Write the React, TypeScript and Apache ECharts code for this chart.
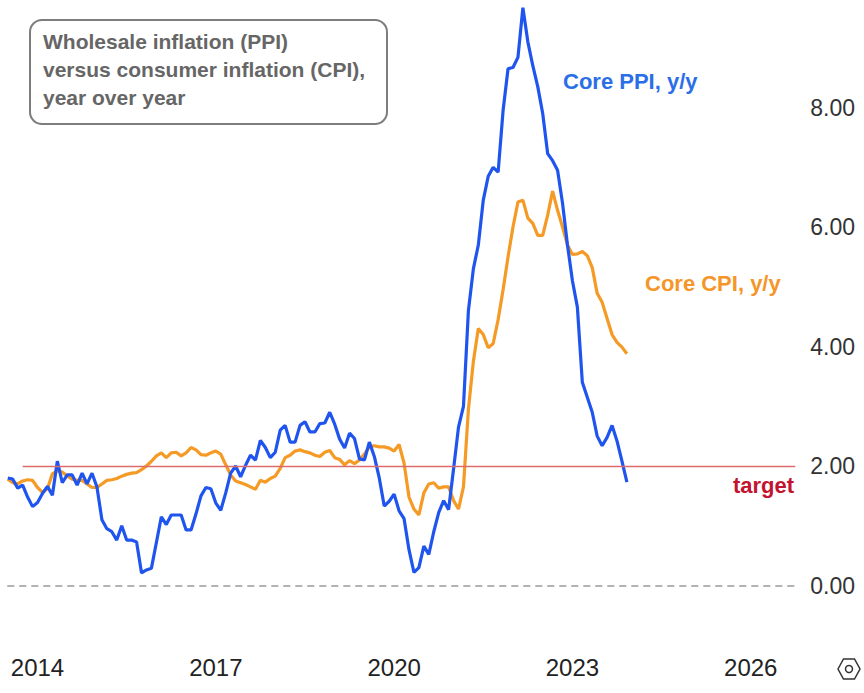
import React, { useEffect, useRef } from "react";
import * as echarts from "echarts";

// Monthly categories, Jul 2013 .. Oct 2026 (axis runs past the data to 2026)
const startYear = 2013;
const startMonth = 7;
const monthCount = 160;
const months: string[] = [];
for (let k = 0; k < monthCount; k++) {
  const m0 = startMonth - 1 + k;
  const y = startYear + Math.floor(m0 / 12);
  const m = (m0 % 12) + 1;
  months.push(`${y}-${m < 10 ? "0" + m : m}`);
}

const yearTickLabels = ["2014", "2017", "2020", "2023", "2026"];
const yTicks = [0, 2, 4, 6, 8];

// Core PPI, y/y  (Jul 2013 .. Dec 2023)
const corePPI = [
  1.8, 1.78, 1.63, 1.68, 1.48, 1.32, 1.39, 1.54, 1.66, 1.51, 2.08, 1.72,
  1.85, 1.85, 1.68, 1.88, 1.7, 1.88, 1.65, 1.1, 0.95, 0.9, 0.76, 1.0,
  0.76, 0.76, 0.73, 0.21, 0.26, 0.29, 0.72, 1.15, 1.02, 1.18, 1.18, 1.18,
  0.93, 0.93, 1.2, 1.5, 1.64, 1.62, 1.38, 1.26, 1.55, 1.88, 2.0, 1.82,
  2.01, 2.18, 2.1, 2.43, 2.31, 2.14, 2.23, 2.6, 2.68, 2.4, 2.4, 2.68,
  2.74, 2.57, 2.57, 2.71, 2.72, 2.9, 2.7, 2.45, 2.3, 2.55, 2.46, 2.12,
  2.1, 2.4, 2.16, 1.8, 1.33, 1.41, 1.53, 1.25, 1.12, 0.6, 0.22, 0.3,
  0.66, 0.52, 0.9, 1.22, 1.42, 1.27, 1.95, 2.65, 3.0, 4.6, 5.3, 5.7,
  6.45, 6.85, 7.0, 6.92, 7.95, 8.65, 8.67, 8.84, 9.67, 9.1, 8.7, 8.35,
  7.9, 7.23, 7.11, 6.95, 6.4, 5.7, 5.1, 4.66, 3.4, 3.15, 2.9, 2.5,
  2.34, 2.48, 2.68, 2.42, 2.08, 1.73,
];

// Core CPI, y/y  (Jul 2013 .. Dec 2023)
const coreCPI = [
  1.78, 1.72, 1.7, 1.75, 1.77, 1.76, 1.64, 1.56, 1.62, 1.87, 1.92, 1.9,
  1.83, 1.78, 1.76, 1.76, 1.7, 1.64, 1.64, 1.7, 1.76, 1.77, 1.79, 1.83,
  1.86, 1.88, 1.89, 1.94, 2.0, 2.08, 2.17, 2.22, 2.14, 2.22, 2.23, 2.17,
  2.22, 2.31, 2.27, 2.19, 2.18, 2.22, 2.25, 2.2, 2.02, 1.85, 1.75, 1.72,
  1.69, 1.65, 1.61, 1.76, 1.73, 1.79, 1.83, 1.96, 2.14, 2.18, 2.25, 2.27,
  2.24, 2.22, 2.18, 2.16, 2.23, 2.26, 2.14, 2.11, 2.02, 2.09, 2.04, 2.1,
  2.2, 2.32, 2.34, 2.32, 2.32, 2.3, 2.25, 2.36, 2.05, 1.48, 1.28, 1.18,
  1.55, 1.7, 1.72, 1.63, 1.65, 1.65, 1.42, 1.28, 1.65, 2.95, 3.75, 4.3,
  4.2, 3.98, 4.05, 4.45, 4.95, 5.5, 6.0, 6.42, 6.45, 6.15, 6.06, 5.86,
  5.86, 6.2, 6.6, 6.28, 6.0, 5.7, 5.54, 5.55, 5.59, 5.52, 5.32, 4.89,
  4.74, 4.47, 4.2, 4.07, 3.99, 3.88,
];

const targetValue = 2;

export default function App() {
  const ref = useRef<HTMLDivElement>(null);

  useEffect(() => {
    if (!ref.current) return;
    const chart = echarts.init(ref.current, null, { renderer: "svg" });
    const font = '"Liberation Sans", Arial, sans-serif';
    const showYears = new Set(yearTickLabels.map((y) => `${y}-01`));

    chart.setOption({
      animation: false,
      backgroundColor: "#ffffff",
      grid: { left: 7.8, right: 68.7, top: 0, bottom: 107.5, containLabel: false },
      xAxis: {
        type: "category",
        data: months,
        boundaryGap: false,
        axisLine: {
          show: true,
          onZero: true,
          lineStyle: { color: "#9a9a9a", width: 1.5, type: [6, 6] },
        },
        axisTick: { show: false },
        splitLine: { show: false },
        axisLabel: {
          interval: (_i: number, v: string) => showYears.has(v),
          formatter: (v: string) => v.slice(0, 4),
          margin: 70,
          color: "#222",
          fontFamily: font,
          fontSize: 24,
        },
      },
      yAxis: {
        type: "value",
        position: "right",
        min: 0,
        max: 9.8,
        interval: 2,
        axisLine: { show: false },
        axisTick: { show: false },
        splitLine: { show: false },
        axisLabel: {
          showMaxLabel: false,
          margin: 15,
          color: "#333",
          fontFamily: font,
          fontSize: 23,
          formatter: (v: number) => (yTicks.includes(v) ? v.toFixed(2) : ""),
        },
      },
      series: [
        {
          name: "Core CPI, y/y",
          type: "line",
          data: coreCPI,
          showSymbol: false,
          symbol: "none",
          lineStyle: { color: "#f59a25", width: 3.2 },
          z: 2,
          markLine: {
            silent: true,
            symbol: "none",
            label: { show: false },
            lineStyle: { color: "#de6b6b", width: 1.3, type: "solid" },
            data: [
              [
                { coord: ["2013-10", targetValue] },
                { coord: [months[months.length - 1], targetValue] },
              ],
            ],
          },
        },
        {
          name: "Core PPI, y/y",
          type: "line",
          data: corePPI,
          showSymbol: false,
          symbol: "none",
          lineStyle: { color: "#1f55ee", width: 3.2 },
          z: 3,
        },
      ],
      graphic: [
        {
          type: "rect",
          shape: { x: 30, y: 20, width: 357, height: 104, r: 12 },
          style: { fill: "#ffffff", stroke: "#7d7d7d", lineWidth: 2 },
          z: 10,
        },
        {
          type: "text",
          x: 43,
          y: 27,
          style: {
            text: "Wholesale inflation (PPI)\nversus consumer inflation (CPI),\nyear over year",
            font: `bold 21px ${font}`,
            fill: "#666666",
            lineHeight: 28,
            textVerticalAlign: "top",
          },
          z: 11,
        },
        {
          type: "text",
          x: 563,
          y: 81,
          style: {
            text: "Core PPI, y/y",
            font: `bold 22px ${font}`,
            fill: "#2b6fe8",
            textVerticalAlign: "middle",
          },
          z: 11,
        },
        {
          type: "text",
          x: 645,
          y: 283,
          style: {
            text: "Core CPI, y/y",
            font: `bold 22px ${font}`,
            fill: "#f5952a",
            textVerticalAlign: "middle",
          },
          z: 11,
        },
        {
          type: "text",
          x: 794,
          y: 485,
          style: {
            text: "target",
            font: `bold 22px ${font}`,
            fill: "#c3132f",
            textAlign: "right",
            textVerticalAlign: "middle",
          },
          z: 11,
        },
        {
          type: "polygon",
          shape: {
            points: [
              [838, 669],
              [843.5, 659],
              [854.5, 659],
              [860, 669],
              [854.5, 679],
              [843.5, 679],
            ],
          },
          style: { fill: "none", stroke: "#333", lineWidth: 1.5 },
          z: 11,
        },
        {
          type: "circle",
          shape: { cx: 849, cy: 669, r: 3.5 },
          style: { fill: "none", stroke: "#333", lineWidth: 1.5 },
          z: 11,
        },
      ],
    });

    return () => chart.dispose();
  }, []);

  return (
    <div
      ref={ref}
      style={{ position: "fixed", left: 0, top: 0, width: 864, height: 693, background: "#fff" }}
    />
  );
}
